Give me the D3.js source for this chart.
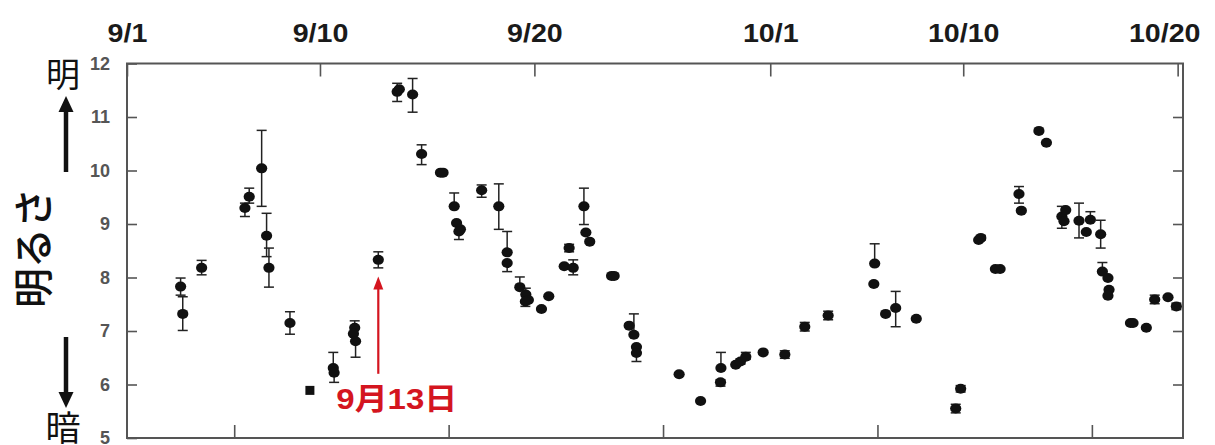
<!DOCTYPE html>
<html>
<head>
<meta charset="utf-8">
<script src="https://cdn.jsdelivr.net/npm/d3@7"></script>
<style>
  body { margin: 0; background: #fff; }
  svg { display: block; font-family: "Liberation Sans", Arial, sans-serif; }
</style>
</head>
<body>
<svg id="chart" width="1215" height="445"></svg>
<script>
// days counted from 9/1 (0 = 9/1)
const days = [2.50, 2.60, 3.48, 5.50, 5.70, 6.28, 6.51, 6.62, 7.60, 9.62, 9.66, 10.62, 10.56, 10.66,
  11.72, 12.60, 12.70, 13.32, 13.74, 14.62, 14.74, 15.26, 15.37, 15.55, 15.48, 16.54, 17.34, 17.73,
  17.73, 18.32, 18.60, 18.72, 18.58, 19.33, 19.67, 20.39, 20.62, 20.81, 21.31, 21.40, 21.58, 22.60,
  22.72, 23.42, 23.64, 23.76, 23.76, 25.75, 26.75, 27.70, 27.68, 28.39, 28.61, 28.86, 29.67, 30.68,
  31.61, 32.70, 34.87, 34.83, 35.38, 35.85, 36.81, 38.65, 38.88, 39.72, 39.82, 40.50, 40.72, 41.60,
  41.71, 42.53, 42.88, 43.60, 43.78, 43.70, 44.40, 44.74, 44.93, 45.41, 45.49, 45.75, 45.80, 45.75,
  46.80, 46.92, 47.54, 47.93, 48.55, 48.94];
const mag = [7.83, 7.32, 8.18, 9.30, 9.51, 10.04, 8.78, 8.18, 7.15, 6.31, 6.22, 7.06, 6.95, 6.81,
  8.33, 11.47, 11.52, 11.42, 10.31, 9.96, 9.96, 9.33, 9.02, 8.90, 8.86, 9.63, 9.33, 8.47,
  8.27, 7.82, 7.68, 7.58, 7.55, 7.41, 7.65, 8.21, 8.55, 8.18, 9.33, 8.84, 8.67, 8.03,
  8.03, 7.10, 6.93, 6.70, 6.59, 6.19, 5.69, 6.31, 6.04, 6.37, 6.43, 6.52, 6.60, 6.56,
  7.08, 7.29, 8.26, 7.88, 7.32, 7.43, 7.23, 5.55, 5.92, 8.70, 8.74, 8.16, 8.16, 9.56,
  9.25, 10.74, 10.52, 9.14, 9.26, 9.05, 9.06, 8.85, 9.08, 8.81, 8.11, 7.99, 7.77, 7.66,
  7.15, 7.15, 7.06, 7.59, 7.63, 7.46];
const errUp = [0.16, 0.32, 0.14, 0.09, 0.16, 0.71, 0.42, 0.37, 0.21, 0.29, 0, 0.13, 0, 0,
  0.15, 0.16, 0, 0.30, 0.17, 0, 0, 0.25, 0, 0, 0, 0.10, 0.42, 0.39,
  0, 0.19, 0.12, 0, 0, 0, 0, 0, 0.07, 0.15, 0.34, 0, 0, 0,
  0, 0, 0.39, 0, 0, 0, 0, 0.29, 0.05, 0, 0.05, 0.08, 0, 0.07,
  0.08, 0.08, 0.37, 0, 0, 0.31, 0, 0.08, 0.06, 0, 0.04, 0, 0, 0.14,
  0, 0, 0, 0.19, 0, 0, 0.33, 0, 0.15, 0.26, 0.17, 0, 0, 0,
  0, 0, 0, 0.08, 0, 0.06];
const errDown = [0.16, 0.31, 0.13, 0.16, 0.12, 0.71, 0.39, 0.36, 0.21, 0, 0.18, 0, 0, 0.30,
  0.15, 0.18, 0, 0.33, 0.20, 0, 0, 0, 0, 0, 0.15, 0.13, 0.43, 0,
  0.16, 0, 0, 0, 0.09, 0, 0, 0, 0.07, 0.13, 0.34, 0, 0, 0,
  0, 0, 0, 0, 0.16, 0, 0, 0, 0.07, 0, 0.05, 0.05, 0, 0.07,
  0.08, 0.08, 0, 0, 0, 0.35, 0, 0.08, 0.06, 0, 0.04, 0, 0, 0.17,
  0, 0, 0, 0.22, 0, 0, 0.32, 0, 0, 0.26, 0, 0, 0, 0,
  0, 0, 0, 0.08, 0, 0.06];

// one observation drawn with a square symbol
const squareDays = [8.53];
const squareMag = [5.89];

const topTickDays = [0, 9, 19, 30, 39, 49];
const topTickLabels = ["9/1", "9/10", "9/20", "10/1", "10/10", "10/20"];
const bottomTickDays = [5, 15, 25, 35, 45];
const yTicks = [5, 6, 7, 8, 9, 10, 11, 12];
const rightTicks = [6, 7, 8, 9, 10, 11];

// arrow pointing at the 9/13 observation
const noteDay = 11.72;
const noteFrom = 6.2;
const noteTo = 8.02;
const noteText = "9月13日";

const svg = d3.select("#chart");
const plotLeft = 127, plotRight = 1183, plotTop = 63.5, plotBottom = 438;

const x = d3.scaleLinear().domain([0, 49.25]).range([plotLeft, plotRight]);
const y = d3.scaleLinear().domain([5, 12]).range([plotBottom, plotTop]);

const frameColor = "#555";

// axes (ticks point inward)
const gLeft = svg.append("g").attr("transform", "translate(" + plotLeft + ",0)")
  .call(d3.axisLeft(y).tickValues(yTicks).tickSize(-10).tickPadding(17).tickFormat(d3.format("d")));
gLeft.selectAll("text")
  .attr("font-size", 18).attr("font-weight", "bold").attr("fill", "#555")
  .attr("font-family", "Liberation Sans, Arial, sans-serif");

svg.append("g").attr("transform", "translate(" + plotRight + ",0)")
  .call(d3.axisRight(y).tickValues(rightTicks).tickSize(-10).tickFormat(""));

const gTop = svg.append("g").attr("transform", "translate(0," + plotTop + ")")
  .call(d3.axisTop(x).tickValues(topTickDays).tickSize(-13).tickPadding(22)
    .tickFormat((d, i) => topTickLabels[i]));
gTop.selectAll("text")
  .attr("font-size", 26).attr("font-weight", "bold").attr("fill", "#1a1a1a")
  .attr("font-family", "Liberation Sans, Arial, sans-serif")
  .attr("transform", "scale(1.1,1)")
  .attr("x", function (d) {
    // keep the last label inside the picture
    const half = this.getComputedTextLength() * 1.1 / 2;
    const over = x(d) + half - 1200;
    return over > 0 ? -over / 1.1 : 0;
  });

svg.append("g").attr("transform", "translate(0," + plotBottom + ")")
  .call(d3.axisBottom(x).tickValues(bottomTickDays).tickSize(-13).tickFormat(""));

svg.selectAll(".domain").remove();
svg.selectAll(".tick line").attr("stroke", frameColor).attr("stroke-width", 1.6);

svg.append("rect")
  .attr("x", plotLeft).attr("y", plotTop)
  .attr("width", plotRight - plotLeft).attr("height", plotBottom - plotTop)
  .attr("fill", "none").attr("stroke", frameColor).attr("stroke-width", 2);

// data
const pts = days.map((d, i) => ({ day: d, m: mag[i], up: errUp[i], dn: errDown[i] }));

const eb = svg.append("g").attr("stroke", "#222").attr("stroke-width", 1.5);
pts.filter((p) => p.up > 0 || p.dn > 0).forEach((p) => {
  const cx = x(p.day);
  const y1 = y(p.m + p.up), y2 = y(p.m - p.dn);
  eb.append("line").attr("x1", cx).attr("x2", cx).attr("y1", y1).attr("y2", y2);
  if (p.up > 0) eb.append("line").attr("x1", cx - 5).attr("x2", cx + 5).attr("y1", y1).attr("y2", y1);
  if (p.dn > 0) eb.append("line").attr("x1", cx - 5).attr("x2", cx + 5).attr("y1", y2).attr("y2", y2);
});

svg.append("g").selectAll("ellipse")
  .data(pts)
  .enter()
  .append("ellipse")
  .attr("cx", (d) => x(d.day))
  .attr("cy", (d) => y(d.m))
  .attr("rx", 5.6)
  .attr("ry", 5)
  .attr("fill", "#111");

svg.append("g").selectAll("rect")
  .data(squareDays)
  .enter()
  .append("rect")
  .attr("x", (d) => x(d) - 4.5)
  .attr("y", (d, i) => y(squareMag[i]) - 4.5)
  .attr("width", 9)
  .attr("height", 9)
  .attr("fill", "#111");

// red note
const red = "#d4151f";
const nx = x(noteDay);
svg.append("line")
  .attr("x1", nx).attr("x2", nx)
  .attr("y1", y(noteFrom)).attr("y2", y(noteTo) + 10)
  .attr("stroke", red).attr("stroke-width", 2.2);
svg.append("path")
  .attr("d", "M" + nx + "," + y(noteTo) + "l-5,13h10z")
  .attr("fill", red);
svg.append("text")
  .attr("transform", "translate(" + (nx - 42) + "," + (y(noteFrom) + 35) + ") scale(1.1,1)")
  .attr("font-size", 30).attr("font-weight", "bold").attr("fill", red)
  .attr("font-family", "Liberation Sans, 'Noto Sans CJK JP', sans-serif")
  .text(noteText);

// y label with bright / dark arrows
const jp = "'Noto Sans CJK JP', sans-serif";
svg.append("text").attr("x", 63).attr("y", 87).attr("text-anchor", "middle")
  .attr("font-size", 34).attr("font-family", jp).attr("fill", "#111").text("明");
svg.append("text").attr("x", 63).attr("y", 441).attr("text-anchor", "middle")
  .attr("font-size", 35).attr("font-family", jp).attr("fill", "#111").text("暗");
svg.append("text")
  .attr("transform", "translate(48,248) rotate(-90)")
  .attr("text-anchor", "middle")
  .attr("font-size", 40).attr("font-weight", 500).attr("font-family", jp).attr("fill", "#111")
  .text("明るさ");

svg.append("line").attr("x1", 66).attr("x2", 66).attr("y1", 108).attr("y2", 172)
  .attr("stroke", "#111").attr("stroke-width", 4.5);
svg.append("path").attr("d", "M66,96l-7.5,16h15z").attr("fill", "#111");
svg.append("line").attr("x1", 66).attr("x2", 66).attr("y1", 337).attr("y2", 394)
  .attr("stroke", "#111").attr("stroke-width", 4.5);
svg.append("path").attr("d", "M66,408l-7.5,-16h15z").attr("fill", "#111");
</script>
</body>
</html>
